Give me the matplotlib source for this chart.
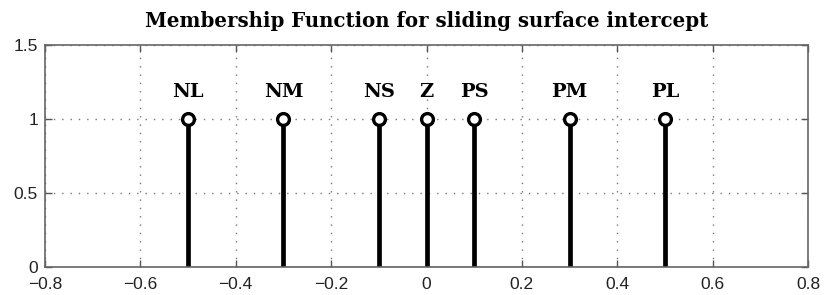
"""Stem plot of the membership function for the sliding surface intercept."""

import matplotlib

matplotlib.use("Agg")
import matplotlib.pyplot as plt  # noqa: E402

LABELS = ["NL", "NM", "NS", "Z", "PS", "PM", "PL"]
CENTERS = [-0.5, -0.3, -0.1, 0.0, 0.1, 0.3, 0.5]
MEMBERSHIP = [1, 1, 1, 1, 1, 1, 1]
X_TICKS = [-0.8, -0.6, -0.4, -0.2, 0, 0.2, 0.4, 0.6, 0.8]
Y_TICKS = [0, 0.5, 1, 1.5]


def main() -> None:
    fig = plt.figure(figsize=(8.25, 2.95), dpi=100)
    ax = fig.add_axes([0.0545, 0.095, 0.925, 0.752])

    markers, stems, base = ax.stem(CENTERS, MEMBERSHIP, linefmt="k-", markerfmt="ko", basefmt="k-")
    plt.setp(stems, linewidth=3.4)
    plt.setp(markers, markersize=8.5, markerfacecolor="white", markeredgewidth=2.4, zorder=4)
    plt.setp(base, linewidth=1.0)

    for x, y, name in zip(CENTERS, MEMBERSHIP, LABELS):
        ax.text(x, y + 0.15, name, ha="center", va="baseline", fontsize=14,
                fontweight="bold", family="DejaVu Serif", color="black")

    ax.set_xlim(-0.8, 0.8)
    ax.set_ylim(0, 1.5)
    ax.set_xticks(X_TICKS)
    ax.set_yticks(Y_TICKS)
    ax.set_xticklabels(["\u22120.8", "\u22120.6", "\u22120.4", "\u22120.2", "0", "0.2", "0.4", "0.6", "0.8"])
    ax.set_yticklabels(["0", "0.5", "1", "1.5"])
    ax.tick_params(axis="both", direction="in", length=5, width=1, colors="#555555",
                   labelcolor="#222222", labelsize=12.5, top=True, right=True)
    ax.tick_params(axis="x", pad=7.5)
    ax.tick_params(axis="y", pad=5)
    for lab in ax.get_xticklabels() + ax.get_yticklabels():
        lab.set_family("Liberation Sans")
    for spine in ax.spines.values():
        spine.set_color("#666666")
        spine.set_linewidth(1.2)
    ax.grid(True, linestyle=(0, (1, 5)), color="#777777", linewidth=1.0)
    ax.set_axisbelow(True)

    ax.set_title("Membership Function for sliding surface intercept", fontsize=14.2,
                 fontweight="bold", family="DejaVu Serif", pad=13)

    fig.savefig("out.png", dpi=100)
    plt.close(fig)


if __name__ == "__main__":
    main()
